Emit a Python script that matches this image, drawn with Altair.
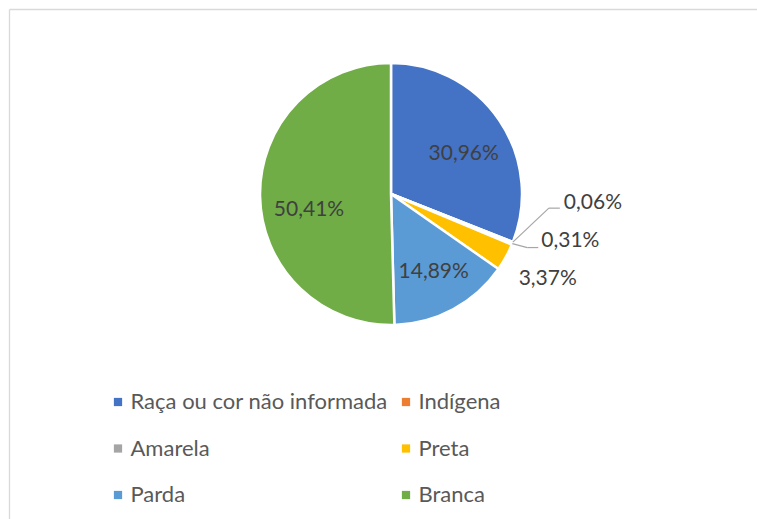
import altair as alt
import pandas as pd

# ---- data ----
categories = ["Raça ou cor não informada", "Indígena", "Amarela", "Preta", "Parda", "Branca"]
values = [30.96, 0.06, 0.31, 3.37, 14.89, 50.41]
labels = ["30,96%", "0,06%", "0,31%", "3,37%", "14,89%", "50,41%"]
colors = ["#4472C4", "#ED7D31", "#A5A5A5", "#FFC000", "#5B9BD5", "#70AD47"]
# legend reading order (two columns, filled row by row in the reference)
legend_order = [categories[0], categories[2], categories[4],
                categories[1], categories[3], categories[5]]

df = pd.DataFrame({
    "cat": categories,
    "value": values,
    "label": labels,
    "idx": list(range(len(categories))),
})

# ---- layout / style ----
W, H = 757, 519
CX, CY, R = 391, 194, 131
R_IN = 88
FONT = "Lato"
TXT = "#404040"

xs = alt.Scale(domain=[0, W], range=[0, W], nice=False, zero=False)
ys = alt.Scale(domain=[0, H], range=[0, H], nice=False, zero=False)

base = alt.Chart(df).transform_window(
    cum="sum(value)", sort=[alt.SortField("idx")], frame=[None, 0]
).transform_calculate(
    v0="datum.cum - datum.value"
).transform_calculate(
    mid="(datum.cum - datum.value / 2) / 100 * 2 * PI"
).transform_calculate(
    px=f"{CX} + {R_IN} * sin(datum.mid)",
    py=f"{CY} - {R_IN} * cos(datum.mid)",
    ox=f"{CX} + {R} * sin(datum.mid)",
    oy=f"{CY} - {R} * cos(datum.mid)",
)

arcs = base.mark_arc(outerRadius=R, stroke="white", strokeWidth=2.5).encode(
    theta=alt.Theta("v0:Q", stack=None, scale=alt.Scale(domain=[0, 100])),
    theta2="cum:Q",
    color=alt.Color(
        "cat:N",
        scale=alt.Scale(domain=categories, range=colors),
        sort=categories,
        legend=alt.Legend(
            orient="none", legendX=107, legendY=391, columns=2, title=None,
            values=legend_order,
            symbolType="square", symbolSize=68, symbolStrokeWidth=0,
            labelFont=FONT, labelFontSize=22, labelColor="#595959",
            labelOffset=1.5, rowPadding=24.5, columnPadding=7, padding=0,
            labelLimit=0,
        ),
    ),
    x=alt.value(CX),
    y=alt.value(CY),
)


def label_layer(cat, xf, yf, dx, dy, align="center"):
    return base.transform_filter(alt.datum.cat == cat).mark_text(
        font=FONT, fontSize=21, color=TXT, align=align, baseline="middle",
        dx=dx, dy=dy,
    ).encode(
        x=alt.X(f"{xf}:Q", scale=xs, axis=None),
        y=alt.Y(f"{yf}:Q", scale=ys, axis=None),
        text="label:N",
    )


inside = [
    label_layer(categories[0], "px", "py", 0, 10),
    label_layer(categories[5], "px", "py", 6, 15),
    label_layer(categories[4], "px", "py", 1, 1),
]
outside = [
    label_layer(categories[1], "ox", "oy", 51, -39, "left"),
    label_layer(categories[2], "ox", "oy", 29, -3, "left"),
    label_layer(categories[3], "ox", "oy", 42, 22),
]


def leader(cat, ex, ey, hl):
    b = base.transform_filter(alt.datum.cat == cat).transform_calculate(
        ex=f"datum.ox + {ex}", ey=f"datum.oy + {ey}", hx=f"datum.ox + {ex + hl}"
    )
    s1 = b.mark_rule(color="#A6A6A6", strokeWidth=1.2).encode(
        x=alt.X("ox:Q", scale=xs, axis=None), y=alt.Y("oy:Q", scale=ys, axis=None),
        x2="ex:Q", y2="ey:Q",
    )
    s2 = b.mark_rule(color="#A6A6A6", strokeWidth=1.2).encode(
        x=alt.X("ex:Q", scale=xs, axis=None), y=alt.Y("ey:Q", scale=ys, axis=None),
        x2="hx:Q",
    )
    return [s1, s2]


leaders = leader(categories[1], 36, -34, 11) + leader(categories[2], 15, 4, 11)

dummy = pd.DataFrame({"a": [0]})
border_top = alt.Chart(dummy).mark_rule(color="#D9D9D9", strokeWidth=1.3).encode(
    x=alt.value(9.5), x2=alt.value(W), y=alt.value(9.5)
)
border_left = alt.Chart(dummy).mark_rule(color="#D9D9D9", strokeWidth=1.3).encode(
    x=alt.value(9.5), y=alt.value(9.5), y2=alt.value(H)
)

chart = alt.layer(
    border_top, border_left, arcs, *leaders, *inside, *outside
).properties(
    width=W, height=H, padding=0, autosize=alt.AutoSizeParams(type="none"),
    background="white",
).configure_view(stroke=None)

chart.save("out.html", embed_options={"renderer": "svg", "actions": False})
